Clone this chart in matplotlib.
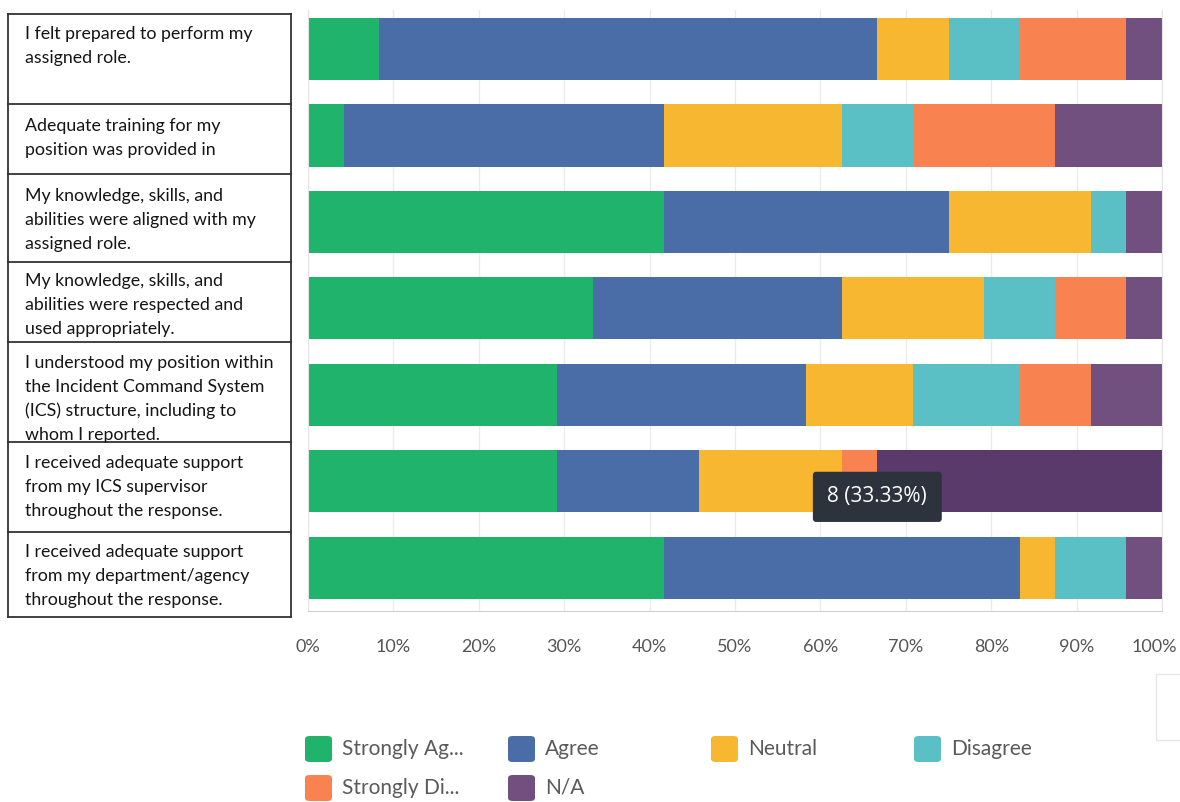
import matplotlib.pyplot as plt
from matplotlib.patches import FancyBboxPatch, Rectangle
from matplotlib.lines import Line2D
from matplotlib.transforms import ScaledTranslation

# ── data (response counts per statement, n = 24) ─────────────────────────────
statements = [
    "I felt prepared to perform my\nassigned role.",
    "Adequate training for my\nposition was provided in",
    "My knowledge, skills, and\nabilities were aligned with my\nassigned role.",
    "My knowledge, skills, and\nabilities were respected and\nused appropriately.",
    "I understood my position within\nthe Incident Command System\n(ICS) structure, including to\nwhom I reported.",
    "I received adequate support\nfrom my ICS supervisor\nthroughout the response.",
    "I received adequate support\nfrom my department/agency\nthroughout the response.",
]
categories = ["Strongly Ag...", "Agree", "Neutral", "Disagree", "Strongly Di...", "N/A"]
strongly_agree    = [2, 1, 10, 8, 7, 7, 10]
agree             = [14, 9, 8, 7, 7, 4, 10]
neutral           = [2, 5, 4, 4, 3, 4, 1]
disagree          = [2, 2, 1, 2, 3, 0, 2]
strongly_disagree = [3, 4, 0, 2, 2, 1, 0]
not_applicable    = [1, 3, 1, 1, 2, 8, 1]
n_resp = 24
ticks = list(range(0, 101, 10))

series = [strongly_agree, agree, neutral, disagree, strongly_disagree, not_applicable]
colors = ["#20b36b", "#4a6ca7", "#f7b731", "#5bbfc6", "#f98251", "#71507f"]
hover_color = "#5a3a6b"
hover_row, hover_series = 5, 5

W, H = 1180, 802
fig = plt.figure(figsize=(W / 100, H / 100), dpi=100)
plt.rcParams["font.family"] = ["Lato", "DejaVu Sans"]

def fx(px): return px / W
def fy(py): return 1 - py / H

ax = fig.add_axes([fx(308), fy(611), fx(1162) - fx(308), fy(10) - fy(611)])

rows = list(range(len(statements)))
left = [0.0] * len(rows)
for k, (vals, col) in enumerate(zip(series, colors)):
    pct = [v / n_resp * 100 for v in vals]
    bar_cols = [hover_color if (k == hover_series and r == hover_row) else col for r in rows]
    ax.barh(rows, pct, left=left, height=0.72, color=bar_cols, linewidth=0, zorder=2)
    left = [l + p for l, p in zip(left, pct)]

ax.set_xlim(0, 100)
ax.set_ylim(6.5, -0.45)
ax.set_yticks([])
ax.set_xticks(ticks)
ax.set_xticklabels([f"{t}%" for t in ticks], fontsize=13, color="#555555")
ax.tick_params(axis="x", length=0, pad=20)
# pull the last label in so it stays inside the canvas
last = ax.get_xticklabels()[-1]
last.set_transform(last.get_transform() + ScaledTranslation(-0.08, 0, fig.dpi_scale_trans))
ax.grid(axis="x", color="#ebebeb", linewidth=1, zorder=0)
ax.spines["top"].set_visible(False)
for side in ["left", "right"]:
    ax.spines[side].set_color("#e4e4e4")
ax.spines["bottom"].set_color("#d0d0d0")

# hover tooltip on the highlighted segment
na_start = sum(s[hover_row] for s in series[:hover_series]) / n_resp * 100
na_val = series[hover_series][hover_row]
ax.text(na_start, hover_row + 0.18, f"{na_val} ({na_val / n_resp * 100:.2f}%)",
        ha="center", va="center", fontsize=15, color="white", zorder=5,
        family=["Open Sans", "DejaVu Sans"],
        bbox=dict(boxstyle="round,pad=0.7,rounding_size=0.15", fc="#2d333c", ec="none"))

# statement table on the left
edges = [14, 104, 174, 262, 342, 442, 532, 617]
first_line = [34, 126, 196, 281, 363, 463, 552]
for y in edges:
    fig.add_artist(Line2D([fx(8), fx(291)], [fy(y), fy(y)], color="#333333", lw=1.3))
for x in (8, 291):
    fig.add_artist(Line2D([fx(x), fx(x)], [fy(edges[0]), fy(edges[-1])], color="#333333", lw=1.3))
for text, y0 in zip(statements, first_line):
    for i, line in enumerate(text.split("\n")):
        fig.text(fx(25), fy(y0 + i * 24), line, ha="left", va="center",
                 fontsize=12.8, color="#151515")

# legend, row-major in 4 columns
for i, (name, col) in enumerate(zip(categories, colors)):
    cx = 305 + (i % 4) * 203
    cy = 749 + (i // 4) * 39
    fig.add_artist(FancyBboxPatch((fx(cx), fy(cy + 13)), fx(27), 26 / H,
                                  boxstyle="round,pad=0,rounding_size=0.004",
                                  fc=col, ec="none", transform=fig.transFigure))
    fig.text(fx(cx + 37), fy(cy), name, ha="left", va="center",
             fontsize=15, color="#5a5a5a")

# side control stub at the right edge
fig.add_artist(Rectangle((fx(1156), fy(740)), fx(40), 66 / H, transform=fig.transFigure,
                         fc="white", ec="#e6e6e6", lw=1))

fig.savefig("out.png", dpi=100)
